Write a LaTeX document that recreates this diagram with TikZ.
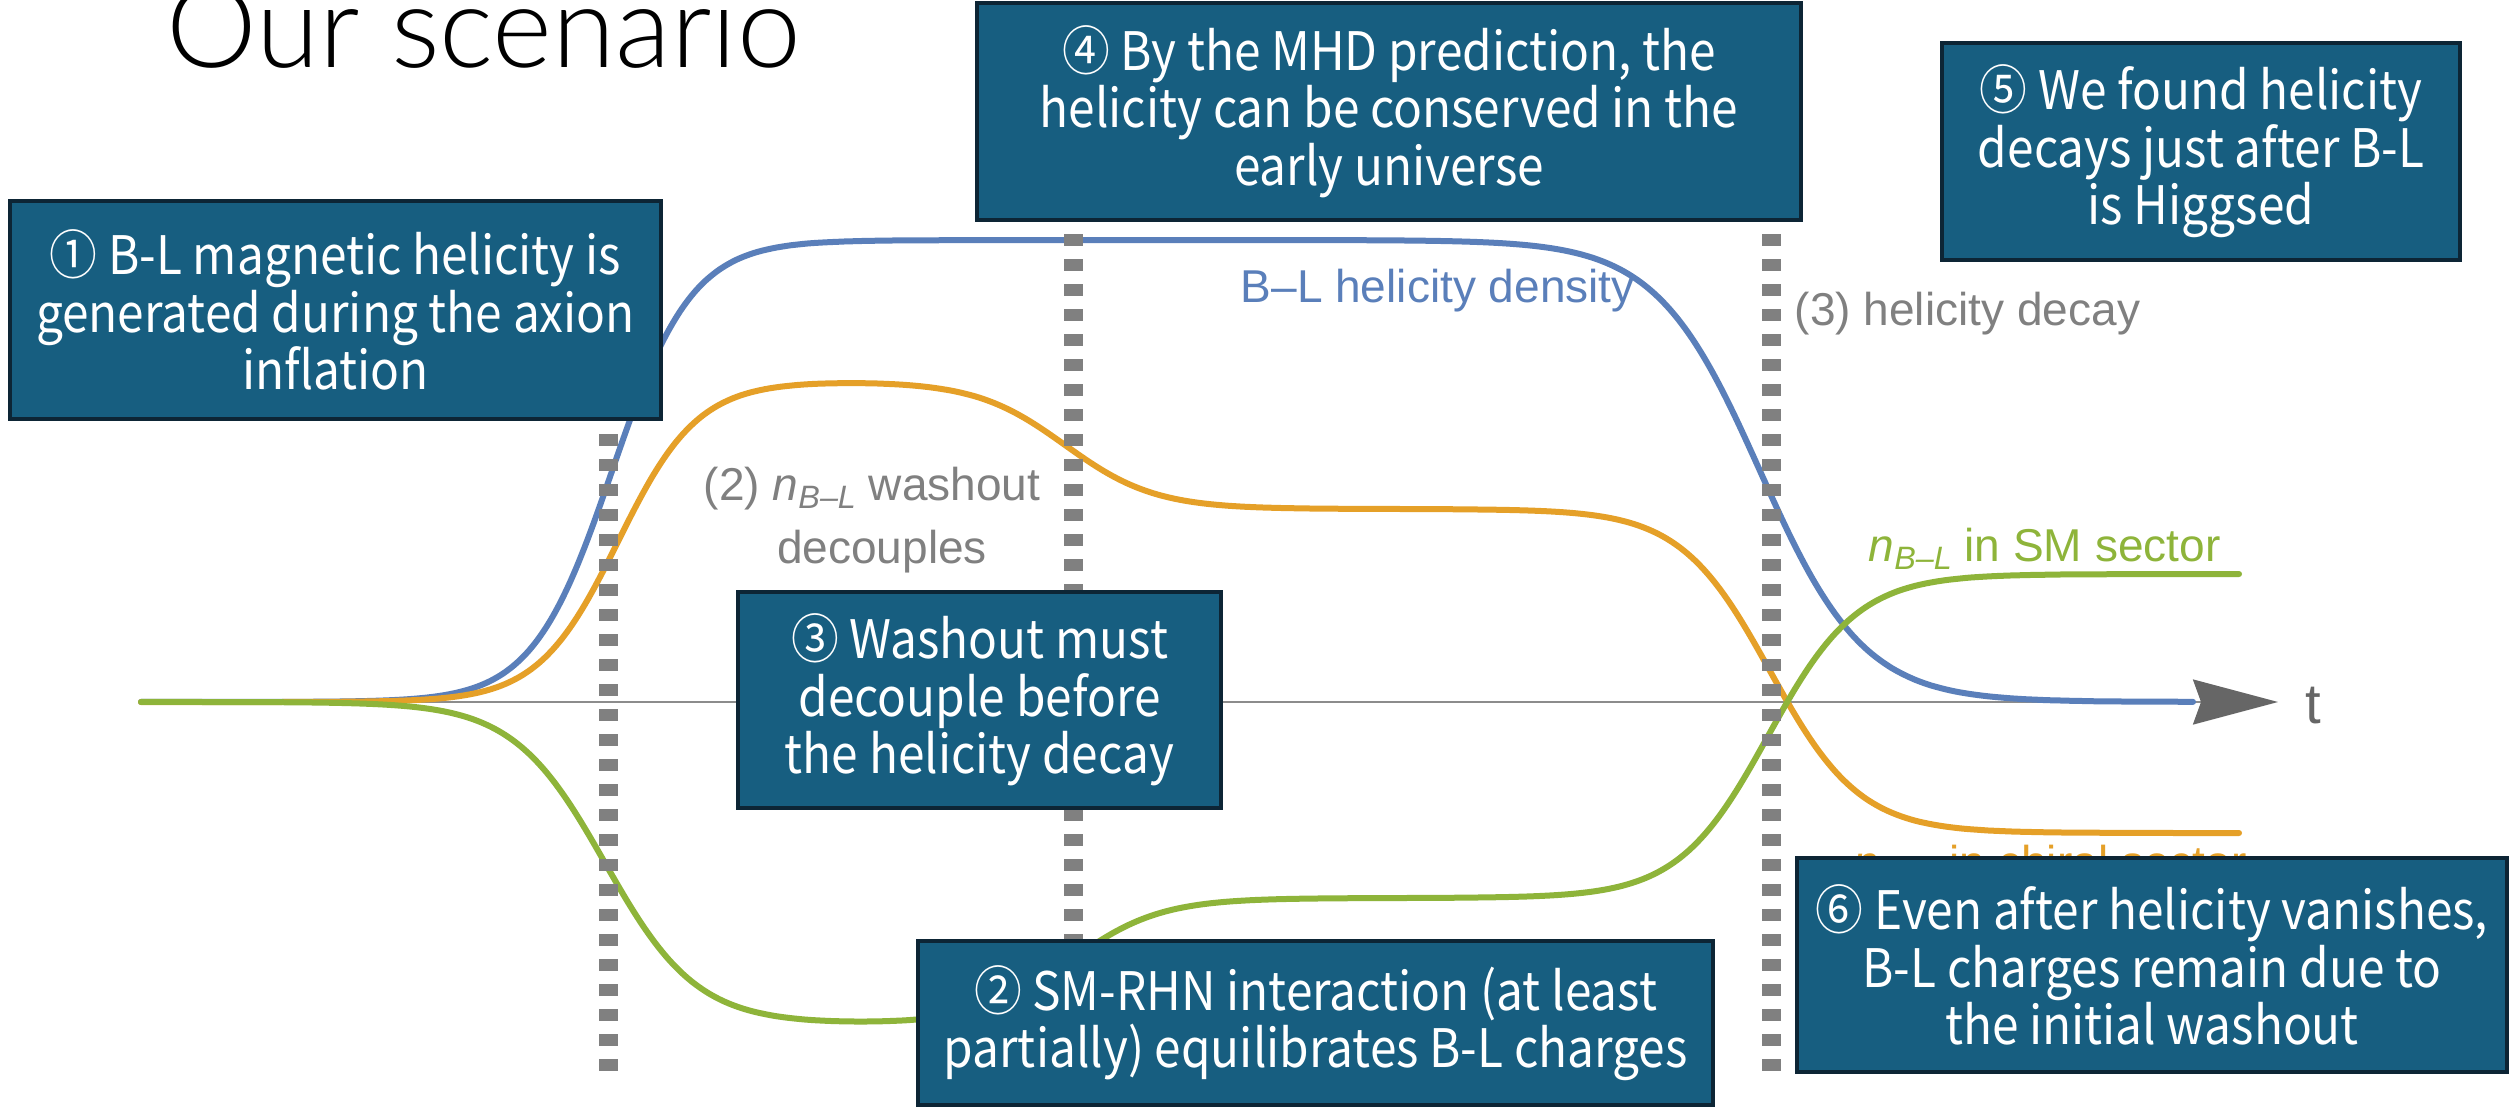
\documentclass[tikz,border=0pt]{standalone}
\usepackage{fontspec}
\setmainfont{Liberation Sans}
\newfontfamily\boxfont{Noto Sans CJK JP}[FakeStretch=0.9]
\newfontfamily\titlefont{Lato Light}
\usetikzlibrary{arrows.meta}
\definecolor{boxfill}{RGB}{23,94,128}
\definecolor{boxedge}{RGB}{13,37,53}
\definecolor{cblue}{RGB}{90,127,186}
\definecolor{corange}{RGB}{229,160,40}
\definecolor{cgreen}{RGB}{142,180,58}
\definecolor{lgray}{RGB}{128,128,128}
\definecolor{agray}{RGB}{102,102,102}
\definecolor{axgray}{RGB}{140,140,140}
\newcommand{\nBL}{\textit{n}\raisebox{-0.85mm}{\fontsize{9.2pt}{9.2pt}\selectfont\textit{B–L}}}
\begin{document}
\begin{tikzpicture}[x=0.1mm,y=-0.1mm,
  declare function={sg(\q)=1/(1+exp(-max(-9,min(9,\q))));},
  infobox/.style={draw=boxedge, fill=boxfill, line width=0.4mm, text=white, inner sep=0pt, align=center,
    font=\boxfont\fontsize{15.1pt}{16.35pt}\selectfont},
  lbl/.style={anchor=base west, inner sep=0pt, font=\fontsize{13.1pt}{15pt}\selectfont},
  lblc/.style={anchor=base, inner sep=0pt, font=\fontsize{13.1pt}{15pt}\selectfont},
  vline/.style={draw=lgray, line width=1.9mm, dash pattern=on 1.2mm off 1.3mm},
  crv/.style={line width=0.6mm, line cap=round, line join=round}
]
\useasboundingbox (0,0) rectangle (2509,1107);
\fill[white] (0,0) rectangle (2509,1107);

% title
\node[anchor=base west, inner sep=0pt, font=\titlefont\fontsize{32.6pt}{36pt}\selectfont] (title) at (166,67) {Our scenario};

% axis
\coordinate (ax0) at (141,702);
\coordinate (ax1) at (2278,702);
\draw[axgray, line width=0.25mm, -{Stealth[length=8.5mm,width=4.5mm,inset=0.8mm,color=agray]}] (ax0) -- (ax1);

% curves
\draw[crv, cblue] plot[domain=141:2193, samples=260, smooth] (\x, {702-462*sg((\x-612)/40)*(1-sg((\x-1760)/52))});
\draw[crv, corange] plot[domain=141:2239, samples=260, smooth] (\x, {702-321*sg((\x-618)/40)+128*sg((\x-1065)/45)+324*sg((\x-1770)/45)});
\draw[crv, cgreen] plot[domain=141:2239, samples=260, smooth] (\x, {702+322*sg((\x-605)/46)-126*sg((\x-1070)/45)-324*sg((\x-1768)/45)});

% dotted vertical markers
\coordinate (v1t) at (608,234); \coordinate (v1b) at (608,1071);
\coordinate (v2t) at (1073,234); \coordinate (v2b) at (1073,1071);
\coordinate (v3t) at (1771,234); \coordinate (v3b) at (1771,1071);
\draw[vline] (v1t) -- (v1b);
\draw[vline] (v2t) -- (v2b);
\draw[vline] (v3t) -- (v3b);

% labels
\node[lbl, text=cblue] (lblhel) at (1240,302) {B–L helicity density};
\node[lbl, text=lgray] (lbldec) at (1794,325) {(3) helicity decay};
\node[lblc, text=lgray] (lblwa) at (872,500) {(2) \nBL{} washout};
\node[lblc, text=lgray] (lblwb) at (882,563) {decouples};
\node[lbl, text=cgreen] (lblsm) at (1868,561) {\nBL{} in SM sector};
\node[lbl, text=corange] (lblch) at (1853,878) {\nBL{} in chiral sector};
\node[anchor=base west, inner sep=0pt, text=agray, font=\fontsize{16pt}{18pt}\selectfont] (tlbl) at (2305,723) {t};

% boxes
\node[infobox, minimum width=65.1mm, minimum height=21.8mm] (b1) at (335.5,310)
  {① B-L magnetic helicity is\\generated during the axion\\inflation};
\node[infobox, minimum width=82.4mm, minimum height=21.7mm] (b4) at (1389,111.5)
  {④ By the MHD prediction, the\\helicity can be conserved in the\\early universe};
\node[infobox, minimum width=51.8mm, minimum height=21.7mm] (b5) at (2201,151.5)
  {⑤ We found helicity\\decays just after B-L\\is Higgsed};
\node[infobox, minimum width=48.3mm, minimum height=21.6mm] (b3) at (979.5,700)
  {③ Washout must\\decouple before\\the helicity decay};
\node[infobox, minimum width=79.5mm, minimum height=16.4mm] (b2) at (1315.5,1023)
  {② SM-RHN interaction (at least\\partially) equilibrates B-L charges};
\node[infobox, minimum width=71.0mm, minimum height=21.4mm] (b6) at (2152,965)
  {⑥ Even after helicity vanishes,\\B-L charges remain due to\\the initial washout};
\end{tikzpicture}
\end{document}
